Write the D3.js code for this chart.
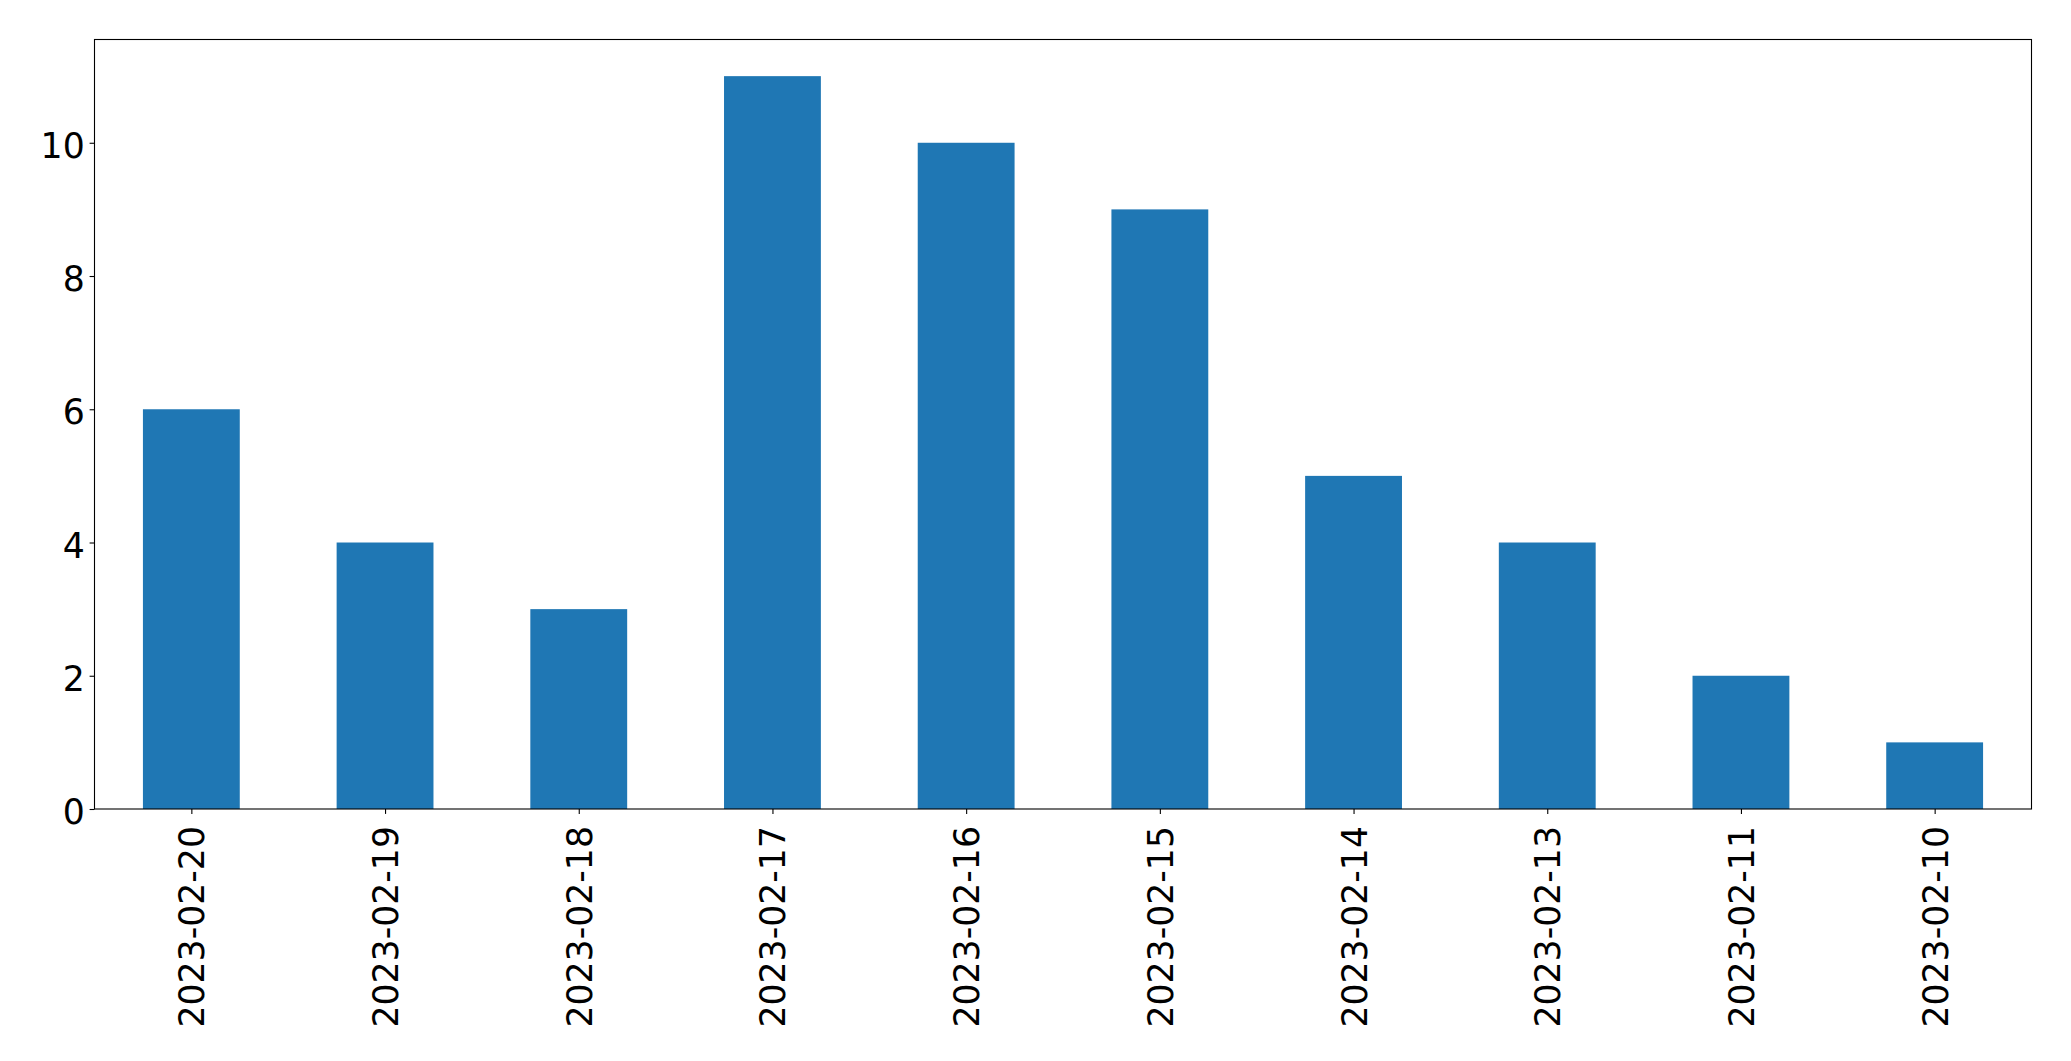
<!DOCTYPE html>
<html>
<head>
<meta charset="utf-8">
<script src="https://cdn.jsdelivr.net/npm/d3@7"></script>
<style>
  html, body { margin: 0; padding: 0; background: #fff; }
  svg { display: block; }
</style>
</head>
<body>
<script>
const categories = ["2023-02-20","2023-02-19","2023-02-18","2023-02-17","2023-02-16","2023-02-15","2023-02-14","2023-02-13","2023-02-11","2023-02-10"];
const values = [6, 4, 3, 11, 10, 9, 5, 4, 2, 1];
const yTicks = [0, 2, 4, 6, 8, 10];

(function () {
const W = 2071, H = 1061;
const mLeft = 94.5, mRight = 2031.5, mTop = 39.5, mBottom = 809;
const fontSize = 34.7;

const svg = d3.select("body").append("svg")
  .attr("width", W).attr("height", H)
  .style("font-family", "'DejaVu Sans', sans-serif");

const x = d3.scaleLinear().domain([-0.5, categories.length - 0.5]).range([mLeft, mRight]);
const y = d3.scaleLinear().domain([0, d3.max(values) * 1.05]).range([mBottom, mTop]);

// bars
svg.append("g").selectAll("rect").data(values).join("rect")
  .attr("x", (d, i) => x(i - 0.25))
  .attr("width", (d, i) => x(i + 0.25) - x(i - 0.25))
  .attr("y", d => y(d))
  .attr("height", d => y(0) - y(d))
  .attr("fill", "#1f77b4");

// y axis
const yAxis = svg.append("g").attr("transform", `translate(${mLeft},0)`)
  .call(d3.axisLeft(y).tickValues(yTicks).tickSize(4.9).tickPadding(4.9).tickFormat(d3.format("d")));
yAxis.select(".domain").remove();
yAxis.selectAll("line").attr("stroke", "#000").attr("stroke-width", 1.1);
yAxis.selectAll("text").attr("font-size", fontSize).attr("fill", "#000")
  .attr("font-family", "'DejaVu Sans', sans-serif").attr("dy", "0.42em");

// x axis
const xAxis = svg.append("g").attr("transform", `translate(0,${mBottom})`)
  .call(d3.axisBottom(x).tickValues(d3.range(categories.length)).tickSize(4.9).tickFormat(i => categories[i]));
xAxis.select(".domain").remove();
xAxis.selectAll("line").attr("stroke", "#000").attr("stroke-width", 1.1);
xAxis.selectAll("text")
  .attr("font-size", fontSize).attr("fill", "#000")
  .attr("font-family", "'DejaVu Sans', sans-serif")
  .attr("text-anchor", "end")
  .attr("x", 0).attr("y", 0)
  .attr("dy", "0.36em")
  .attr("transform", "translate(0,17) rotate(-90)");

// frame
svg.append("rect")
  .attr("x", mLeft).attr("y", mTop)
  .attr("width", mRight - mLeft).attr("height", mBottom - mTop)
  .attr("fill", "none").attr("stroke", "#000").attr("stroke-width", 1.1);
})();
</script>
</body>
</html>
